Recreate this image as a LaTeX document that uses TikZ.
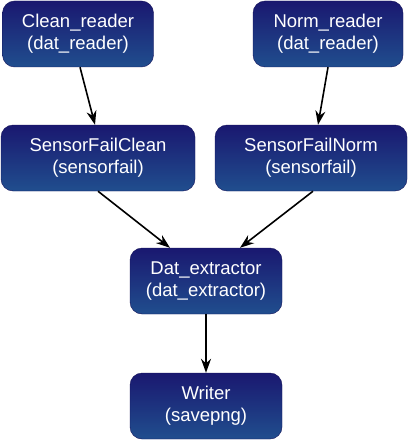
\documentclass[tikz,border=0pt]{standalone}
\usepackage{fontspec}
\setmainfont{Liberation Sans}
\usetikzlibrary{arrows.meta}
\definecolor{boxtop}{RGB}{26,24,112}
\definecolor{boxbot}{RGB}{32,78,142}
\tikzset{
  proc/.style={rounded corners=12pt, top color=boxtop, bottom color=boxbot,
    draw=boxtop!80!black, line width=0.4pt, text=white, align=center,
    minimum height=66pt, inner sep=0pt,
    font=\fontsize{18.5}{22}\selectfont},
  link/.style={line width=1.6pt, -{Stealth[length=14pt,width=10pt]}}
}
\begin{document}
\begin{tikzpicture}[x=1pt,y=-1pt]
            \useasboundingbox (0,0) rectangle (410,441);
            \node[proc,minimum width=151pt] (clean) at (78,34)
                {Clean\_reader\\(dat\_reader)};
            \node[proc,minimum width=150pt] (norm) at (328,34)
                {Norm\_reader\\(dat\_reader)};
            \node[proc,minimum width=194pt] (sfclean) at (98,158)
                {SensorFailClean\\(sensorfail)};
            \node[proc,minimum width=192pt] (sfnorm) at (311,158)
                {SensorFailNorm\\(sensorfail)};
            \node[proc,minimum width=152pt] (extract) at (206,281)
                {Dat\_extractor\\(dat\_extractor)};
            \node[proc,minimum width=152pt] (writer) at (206,406)
                {Writer\\(savepng)};
            \draw[link] ([xshift=2pt]clean.south)
                -- ([xshift=-3pt]sfclean.north);
            \draw[link] (norm.south)
                -- ([xshift=7pt]sfnorm.north);
            \draw[link] (sfclean.south)
                -- ([xshift=-36pt]extract.north);
            \draw[link] ([xshift=2pt]sfnorm.south)
                -- ([xshift=34pt]extract.north);
            \draw[link] (extract) -- (writer);
            \end{tikzpicture}
\end{document}
